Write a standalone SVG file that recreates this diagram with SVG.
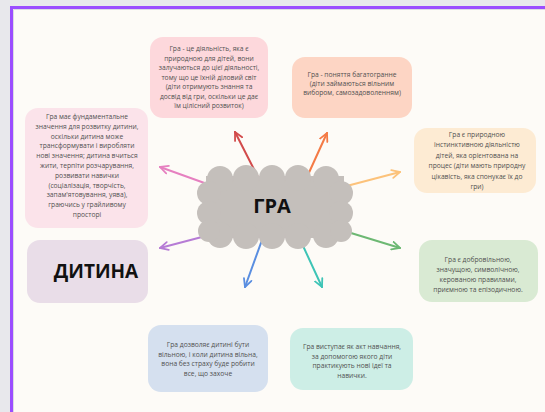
<svg xmlns="http://www.w3.org/2000/svg" width="545" height="412" viewBox="0 0 545 412">
<style>
.t{font-family:"Open Sans","Noto Sans",sans-serif;font-size:6.7px;fill:#505050;text-anchor:middle}
.big{font-family:"Open Sans","Liberation Sans",sans-serif;font-weight:bold;fill:#111;text-anchor:middle}
.ar{fill:none;stroke-width:2;stroke-linecap:round}
</style>
<defs>
<marker id="mR" viewBox="0 0 10 10" refX="9" refY="5" markerWidth="10" markerHeight="10" markerUnits="userSpaceOnUse" orient="auto"><path d="M1,1 L9,5 L1,9" fill="none" stroke="#d24b4b" stroke-width="1.8" stroke-linecap="round"/></marker>
<marker id="mO" viewBox="0 0 10 10" refX="9" refY="5" markerWidth="10" markerHeight="10" markerUnits="userSpaceOnUse" orient="auto"><path d="M1,1 L9,5 L1,9" fill="none" stroke="#f47a45" stroke-width="1.8" stroke-linecap="round"/></marker>
<marker id="mY" viewBox="0 0 10 10" refX="9" refY="5" markerWidth="10" markerHeight="10" markerUnits="userSpaceOnUse" orient="auto"><path d="M1,1 L9,5 L1,9" fill="none" stroke="#fcc27a" stroke-width="1.8" stroke-linecap="round"/></marker>
<marker id="mG" viewBox="0 0 10 10" refX="9" refY="5" markerWidth="10" markerHeight="10" markerUnits="userSpaceOnUse" orient="auto"><path d="M1,1 L9,5 L1,9" fill="none" stroke="#6db873" stroke-width="1.8" stroke-linecap="round"/></marker>
<marker id="mT" viewBox="0 0 10 10" refX="9" refY="5" markerWidth="10" markerHeight="10" markerUnits="userSpaceOnUse" orient="auto"><path d="M1,1 L9,5 L1,9" fill="none" stroke="#3ec4b6" stroke-width="1.8" stroke-linecap="round"/></marker>
<marker id="mB" viewBox="0 0 10 10" refX="9" refY="5" markerWidth="10" markerHeight="10" markerUnits="userSpaceOnUse" orient="auto"><path d="M1,1 L9,5 L1,9" fill="none" stroke="#5a8ee0" stroke-width="1.8" stroke-linecap="round"/></marker>
<marker id="mP" viewBox="0 0 10 10" refX="9" refY="5" markerWidth="10" markerHeight="10" markerUnits="userSpaceOnUse" orient="auto"><path d="M1,1 L9,5 L1,9" fill="none" stroke="#b67bd5" stroke-width="1.8" stroke-linecap="round"/></marker>
<marker id="mK" viewBox="0 0 10 10" refX="9" refY="5" markerWidth="10" markerHeight="10" markerUnits="userSpaceOnUse" orient="auto"><path d="M1,1 L9,5 L1,9" fill="none" stroke="#e680c0" stroke-width="1.8" stroke-linecap="round"/></marker>
</defs>
<rect x="0" y="0" width="545" height="412" fill="#e8e8ec"/>
<rect x="11.5" y="7.5" width="560" height="420" fill="#fdfbf7" stroke="#9b4dff" stroke-width="3"/>
<path d="M13.5,412 V9.5 H545" fill="none" stroke="#dcdce2" stroke-width="1"/>

<g id="connectors">
<line class="ar" x1="262" y1="185" x2="235" y2="132" stroke="#d24b4b" marker-end="url(#mR)"/>
<line class="ar" x1="302" y1="188" x2="327" y2="133" stroke="#f47a45" marker-end="url(#mO)"/>
<line class="ar" x1="320" y1="193" x2="400" y2="172" stroke="#fcc27a" marker-end="url(#mY)"/>
<line class="ar" x1="315" y1="222" x2="400" y2="248" stroke="#6db873" marker-end="url(#mG)"/>
<line class="ar" x1="292" y1="222" x2="322" y2="287" stroke="#3ec4b6" marker-end="url(#mT)"/>
<line class="ar" x1="270" y1="218" x2="245" y2="287" stroke="#5a8ee0" marker-end="url(#mB)"/>
<line class="ar" x1="240" y1="227" x2="160" y2="248" stroke="#b67bd5" marker-end="url(#mP)"/>
<line class="ar" x1="235" y1="194" x2="160" y2="167" stroke="#e680c0" marker-end="url(#mK)"/>
</g>

<g id="gra" fill="#c4bfbb">
<rect x="206" y="176" width="138" height="62"/>
<circle cx="220" cy="179" r="13"/><circle cx="246" cy="178" r="13"/><circle cx="272" cy="178" r="13"/><circle cx="298" cy="178" r="13"/><circle cx="326" cy="179" r="13"/>
<circle cx="220" cy="235" r="13"/><circle cx="246" cy="236" r="13"/><circle cx="272" cy="236" r="13"/><circle cx="298" cy="236" r="13"/><circle cx="326" cy="235" r="13"/>
<circle cx="209" cy="193" r="12"/><circle cx="209" cy="213" r="12"/><circle cx="209" cy="231" r="11"/>
<circle cx="341" cy="193" r="12"/><circle cx="341" cy="213" r="12"/><circle cx="341" cy="231" r="11"/>
<text class="big" x="272" y="213" font-size="20">ГРА</text>
</g>

<g id="n1">
<rect x="150" y="37" width="118" height="81" rx="13" fill="#fdd8dc"/>
<text class="t" x="209" y="51">Гра - це діяльність, яка є</text>
<text class="t" x="209" y="60.5">природною для дітей, вони</text>
<text class="t" x="209" y="70">залучаються до цієї діяльності,</text>
<text class="t" x="209" y="79.5">тому що це їхній діловий світ</text>
<text class="t" x="209" y="89">(діти отримують знання та</text>
<text class="t" x="209" y="98.5">досвід від гри, оскільки це дає</text>
<text class="t" x="209" y="108">їм цілісний розвиток)</text>
</g>

<g id="n2">
<rect x="292" y="57" width="120" height="61" rx="13" fill="#fdd5c4"/>
<text class="t" x="352" y="77">Гра - поняття багатогранне</text>
<text class="t" x="352" y="86">(діти займаються вільним</text>
<text class="t" x="352" y="95">вибором, самозадоволенням)</text>
</g>

<g id="n3">
<rect x="25" y="108" width="123" height="120" rx="13" fill="#fbe3ea"/>
<text class="t" x="87" y="119">Гра має фундаментальне</text>
<text class="t" x="87" y="128.8">значення для розвитку дитини,</text>
<text class="t" x="87" y="138.6">оскільки дитина може</text>
<text class="t" x="87" y="148.4">трансформувати і виробляти</text>
<text class="t" x="87" y="158.2">нові значення; дитина вчиться</text>
<text class="t" x="87" y="168">жити, терпіти розчарування,</text>
<text class="t" x="87" y="177.8">розвивати навички</text>
<text class="t" x="87" y="187.6">(соціалізація, творчість,</text>
<text class="t" x="87" y="197.4">запам'ятовування, уява),</text>
<text class="t" x="87" y="207.2">граючись у грайливому</text>
<text class="t" x="87" y="217">просторі</text>
</g>

<g id="n4">
<rect x="414" y="128" width="122" height="65" rx="13" fill="#fdebd3"/>
<text class="t" x="477" y="137">Гра є природною</text>
<text class="t" x="477" y="147.4">інстинктивною діяльністю</text>
<text class="t" x="477" y="157.8">дітей, яка орієнтована на</text>
<text class="t" x="477" y="168.2">процес (діти мають природну</text>
<text class="t" x="477" y="178.6">цікавість, яка спонукає їх до</text>
<text class="t" x="477" y="189">гри)</text>
</g>

<g id="n5">
<rect x="419" y="240" width="119" height="62" rx="13" fill="#d9ead3"/>
<text class="t" x="478" y="262">Гра є добровільною,</text>
<text class="t" x="478" y="272">значущою, символічною,</text>
<text class="t" x="478" y="282">керованою правилами,</text>
<text class="t" x="478" y="292">приємною та епізодичною.</text>
</g>

<g id="n6">
<rect x="148" y="325" width="120" height="67" rx="13" fill="#d5e0ef"/>
<text class="t" x="208" y="347">Гра дозволяє дитині бути</text>
<text class="t" x="208" y="356.5">вільною, і коли дитина вільна,</text>
<text class="t" x="208" y="366">вона без страху буде робити</text>
<text class="t" x="208" y="375.5">все, що захоче</text>
</g>

<g id="n7">
<rect x="290" y="328" width="123" height="62" rx="13" fill="#cdeee6"/>
<text class="t" x="352" y="349">Гра виступає як акт навчання,</text>
<text class="t" x="352" y="358.5">за допомогою якого діти</text>
<text class="t" x="352" y="368">практикують нові ідеї та</text>
<text class="t" x="352" y="377.5">навички.</text>
</g>

<g id="n8">
<rect x="27" y="240" width="121" height="63" rx="13" fill="#e9dde8"/>
<text class="big" x="96" y="278" font-size="19">ДИТИНА</text>
</g>
</svg>
